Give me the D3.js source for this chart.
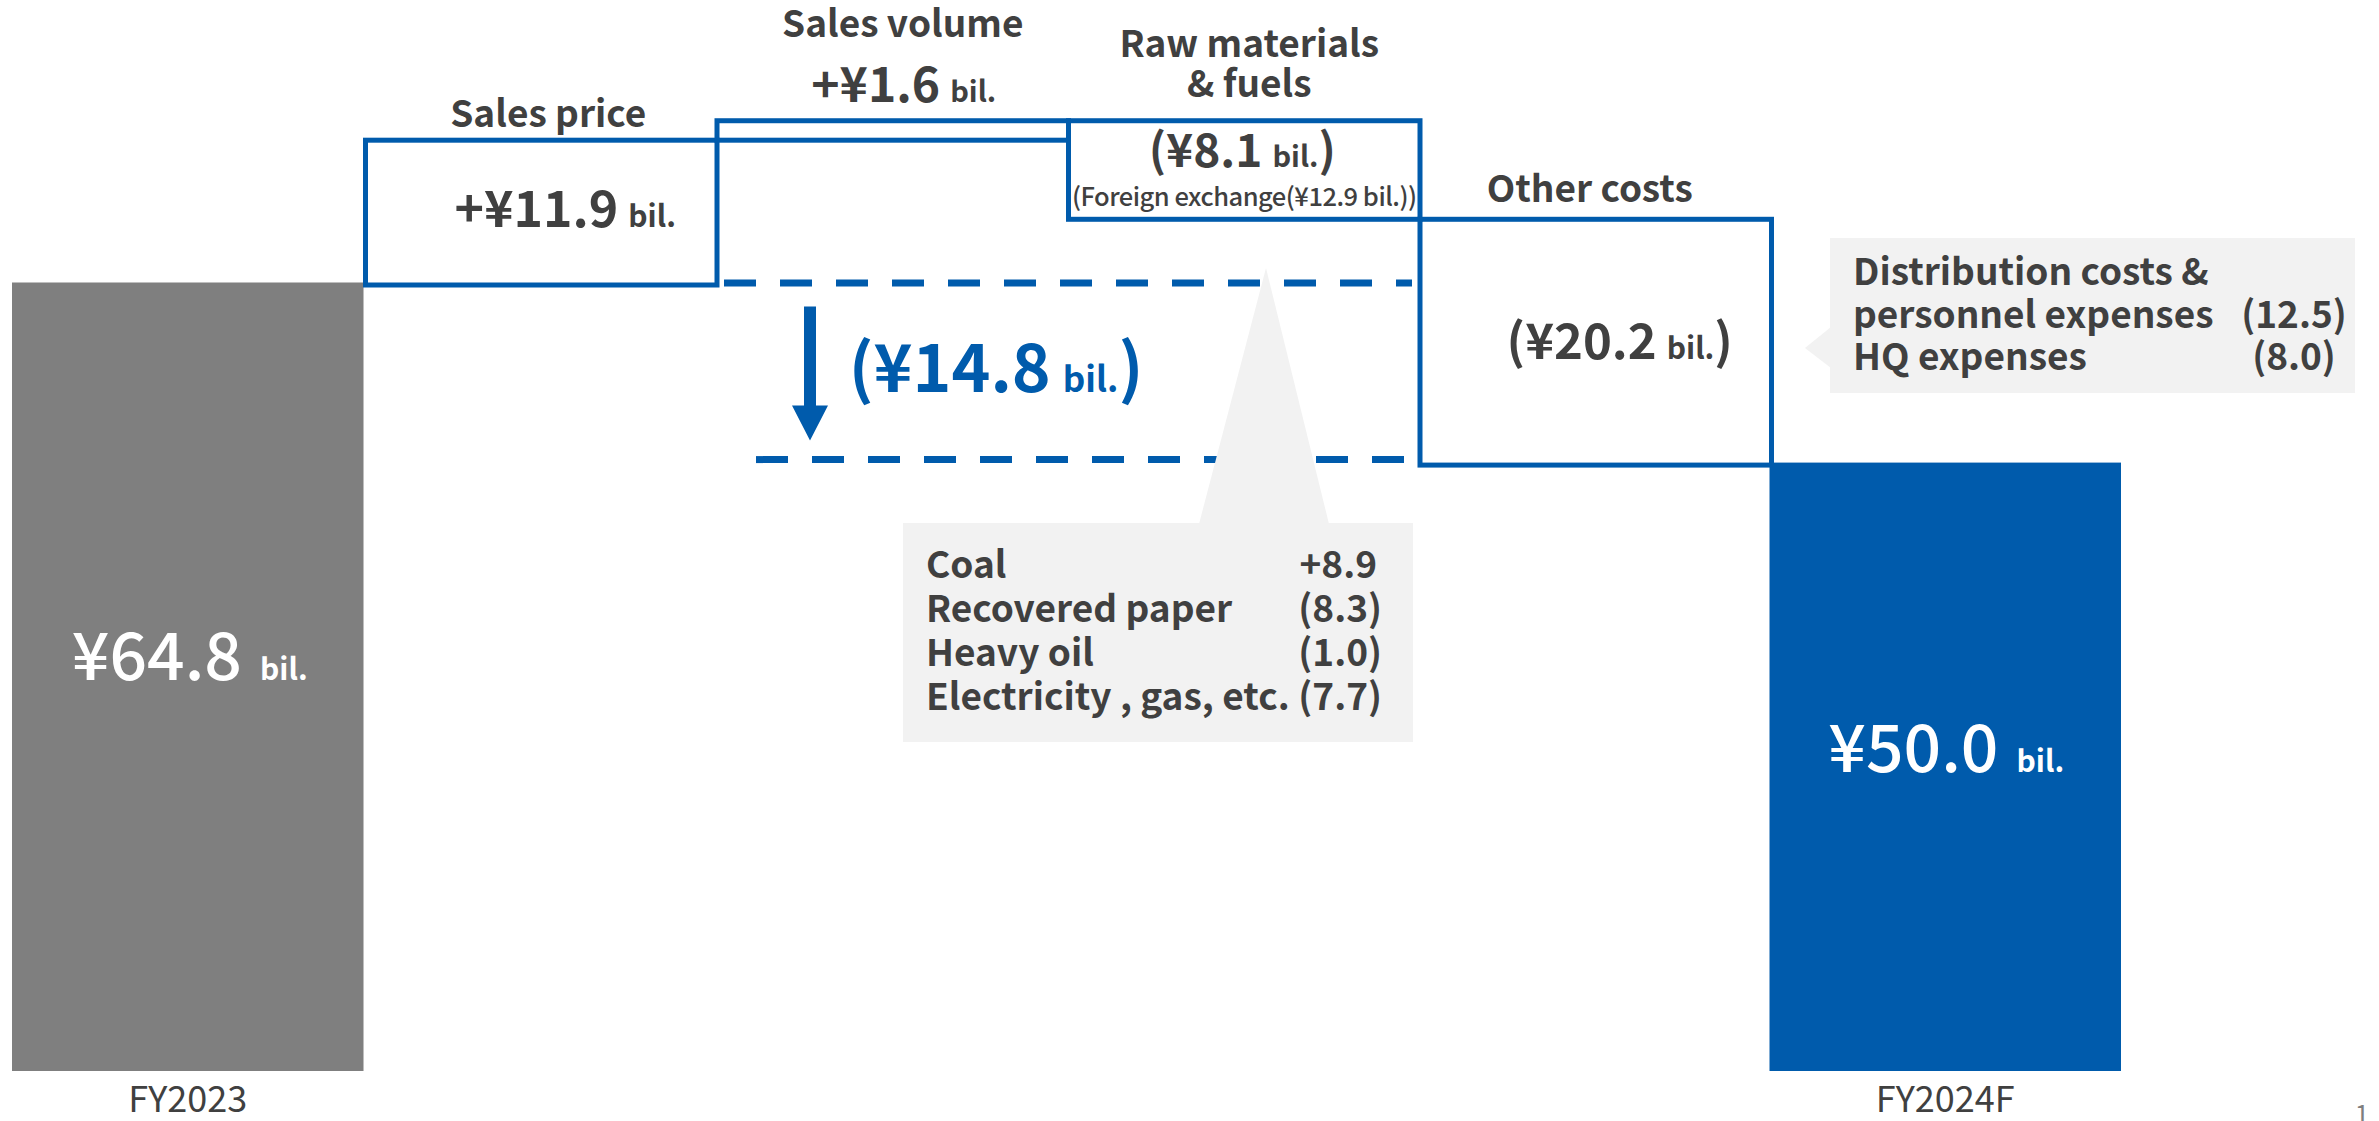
<!DOCTYPE html>
<html>
<head>
<meta charset="utf-8">
<script src="https://cdn.jsdelivr.net/npm/d3@7"></script>
<style>
  html, body { margin: 0; padding: 0; background: #ffffff; }
  svg { display: block; }
  text { font-family: "Noto Sans CJK JP", "Noto Sans", sans-serif; }
</style>
</head>
<body>
<div id="chart"></div>
<script>
// Operating profit bridge, FY2023 -> FY2024F (¥ billions)
const categories = ["FY2023", "Sales price", "Sales volume", "Raw materials & fuels", "Other costs", "FY2024F"];
const values = [64.8, 11.9, 1.6, -8.1, -20.2, 50.0];
const kinds = ["total", "delta", "delta", "delta", "delta", "total"];

// Header lines above each change box
const headerLines = [[], ["Sales price"], ["Sales volume"], ["Raw materials", "& fuels"], ["Other costs"], []];

// Foreign-exchange effect contained in raw materials & fuels
const fxEffect = -12.9;

// Raw materials & fuels breakdown
const materialItems = ["Coal", "Recovered paper", "Heavy oil", "Electricity , gas, etc."];
const materialValues = [8.9, -8.3, -1.0, -7.7];

// Other costs breakdown
const otherItems = [["Distribution costs &", "personnel expenses"], ["HQ expenses"]];
const otherValues = [-12.5, -8.0];

const W = 2379, H = 1121;
const BLUE = "#005bac", GREY_BAR = "#7f7f7f", TEXT = "#404040", CALLOUT = "#f2f2f2";

const svg = d3.select("#chart").append("svg")
  .attr("width", W).attr("height", H)
  .attr("viewBox", `0 0 ${W} ${H}`);

const x = d3.scaleBand().domain(categories).range([12, 2121]).padding(0);
const y = d3.scaleLinear().domain([0, 64.8]).range([1071, 282.5]);

// running levels for the waterfall
let level = 0;
const steps = values.map((v, i) => {
  let start, end;
  if (kinds[i] === "total") { start = 0; end = v; level = v; }
  else { start = level; end = level + v; level = end; }
  return { cat: categories[i], value: v, kind: kinds[i], lo: Math.min(start, end), hi: Math.max(start, end), end };
});

const f1 = d3.format(".1f");
const yen = v => "¥" + f1(Math.abs(v));
const paren = v => v < 0 ? "(" + f1(-v) + ")" : "+" + f1(v);

// ---- callout shapes (behind the boxes) ----
const gCall = svg.append("g");

// ---- total bars ----
svg.append("g").selectAll("rect")
  .data(steps.filter(d => d.kind === "total"))
  .join("rect")
  .attr("x", d => x(d.cat))
  .attr("width", x.bandwidth())
  .attr("y", d => y(d.hi))
  .attr("height", d => y(d.lo) - y(d.hi))
  .attr("fill", (d, i) => i === 0 ? GREY_BAR : BLUE);

// ---- change boxes (outlined) ----
const SW = 5;
svg.append("g").selectAll("rect")
  .data(steps.filter(d => d.kind === "delta"))
  .join("rect")
  .attr("x", d => x(d.cat) + 2)
  .attr("width", x.bandwidth())
  .attr("y", d => y(d.hi) + 2.5)
  .attr("height", d => y(d.lo) - y(d.hi))
  .attr("fill", "none")
  .attr("stroke", BLUE)
  .attr("stroke-width", SW);

// ---- net change guide: dashed levels + arrow ----
const first = values[0], last = values[values.length - 1];
const netChange = last - first;
const xs = x(categories[2]);
const xe = x(categories[4]);
svg.append("line")
  .attr("x1", xs + 9).attr("x2", xe - 6)
  .attr("y1", y(first) + 0.5).attr("y2", y(first) + 0.5)
  .attr("stroke", BLUE).attr("stroke-width", 7)
  .attr("stroke-dasharray", "32 24");
svg.append("line")
  .attr("x1", xs + 41).attr("x2", xe - 13)
  .attr("y1", y(last) - 3).attr("y2", y(last) - 3)
  .attr("stroke", BLUE).attr("stroke-width", 7)
  .attr("stroke-dasharray", "32 24");

const ax = xs + 95;
const aTop = y(first) + 24, aTip = y(last) - 22, headH = 35, shaftW = 12, headW = 36;
svg.append("path")
  .attr("d", d3.line()([
    [ax - shaftW / 2, aTop], [ax + shaftW / 2, aTop],
    [ax + shaftW / 2, aTip - headH], [ax + headW / 2, aTip - headH],
    [ax, aTip],
    [ax - headW / 2, aTip - headH], [ax - shaftW / 2, aTip - headH]
  ]) + "Z")
  .attr("fill", BLUE);

const netText = svg.append("text")
  .attr("x", 996).attr("y", 392)
  .attr("text-anchor", "middle")
  .attr("fill", BLUE).attr("font-weight", 700);
netText.append("tspan").attr("font-size", 66).text("(" + yen(netChange));
netText.append("tspan").attr("font-size", 35).attr("dx", 12).text("bil.");
netText.append("tspan").attr("font-size", 66).text(")");

// ---- callout: raw materials & fuels breakdown ----
const mBox = { x0: 903, x1: 1413, y0: 523, y1: 742 };
gCall.append("rect")
  .attr("x", mBox.x0).attr("y", mBox.y0)
  .attr("width", mBox.x1 - mBox.x0).attr("height", mBox.y1 - mBox.y0)
  .attr("fill", CALLOUT);
svg.append("path")
  .attr("d", d3.line()([[1199, mBox.y0 + 1], [1266, 268], [1329, mBox.y0 + 1]]) + "Z")
  .attr("fill", CALLOUT);

const mText = svg.append("g").attr("fill", TEXT).attr("font-weight", 700).attr("font-size", 37);
mText.selectAll("text.lbl")
  .data(materialItems)
  .join("text").attr("class", "lbl")
  .attr("x", 926).attr("y", (d, i) => 578 + i * 44)
  .text(d => d);
mText.selectAll("text.val")
  .data(materialValues)
  .join("text").attr("class", "val")
  .attr("x", d => d < 0 ? 1382 : 1377).attr("y", (d, i) => 578 + i * 44)
  .attr("text-anchor", "end")
  .text(d => paren(d));

// ---- callout: other costs breakdown ----
const oBox = { x0: 1830, x1: 2355, y0: 238, y1: 393 };
gCall.append("rect")
  .attr("x", oBox.x0).attr("y", oBox.y0)
  .attr("width", oBox.x1 - oBox.x0).attr("height", oBox.y1 - oBox.y0)
  .attr("fill", CALLOUT);
gCall.append("path")
  .attr("d", d3.line()([[oBox.x0 + 1, 327], [1805, 348], [oBox.x0 + 1, 368]]) + "Z")
  .attr("fill", CALLOUT);

const oText = svg.append("g").attr("fill", TEXT).attr("font-weight", 700).attr("font-size", 37);
let line = 0;
otherItems.forEach((lines, i) => {
  lines.forEach((t, j) => {
    oText.append("text").attr("x", 1853).attr("y", 285 + (line + j) * 42.5).text(t);
  });
  oText.append("text")
    .attr("x", 2294).attr("y", 285 + (line + lines.length - 1) * 42.5)
    .attr("text-anchor", "middle")
    .text(paren(otherValues[i]));
  line += lines.length;
});

// ---- headers above change boxes ----
const headerPos = { "Sales price": [9, 127], "Sales volume": [12, 37], "Raw materials & fuels": [7, 57], "Other costs": [-4, 202] };
steps.forEach((d, i) => {
  if (!headerLines[i].length) return;
  const [dx, by] = headerPos[d.cat];
  headerLines[i].forEach((t, j) => {
    svg.append("text")
      .attr("x", x(d.cat) + x.bandwidth() / 2 + dx)
      .attr("y", by + j * 40)
      .attr("text-anchor", "middle")
      .attr("fill", TEXT).attr("font-weight", 700).attr("font-size", 37)
      .text(t);
  });
});

// ---- value labels for change boxes ----
const valuePos = {
  "Sales price": [26, 227, 50, 30],
  "Sales volume": [13, 102, 48, 29],
  "Raw materials & fuels": [0, 167, 46, 29],
  "Other costs": [26, 359, 49, 30]
};
steps.filter(d => d.kind === "delta").forEach(d => {
  const [dx, by, big, small] = valuePos[d.cat];
  const t = svg.append("text")
    .attr("x", x(d.cat) + x.bandwidth() / 2 + dx)
    .attr("y", by)
    .attr("text-anchor", "middle")
    .attr("fill", TEXT).attr("font-weight", 700);
  t.append("tspan").attr("font-size", big).text((d.value < 0 ? "(" : "+") + yen(d.value));
  t.append("tspan").attr("font-size", small).attr("dx", 10).text("bil.");
  if (d.value < 0) t.append("tspan").attr("font-size", big).text(")");
});

// foreign exchange note inside raw materials box
const fx = svg.append("text")
  .attr("x", x(categories[3]) + x.bandwidth() / 2 + 2)
  .attr("y", 206)
  .attr("text-anchor", "middle")
  .attr("fill", TEXT).attr("font-weight", 500).attr("font-size", 25.5)
  .attr("letter-spacing", -0.5);
fx.append("tspan").text("(Foreign exchange(" + yen(fxEffect) + " ");
fx.append("tspan").text("bil.))");

// ---- total value labels ----
const totalPos = { "FY2023": [2, 680], "FY2024F": [1, 772] };
steps.filter(d => d.kind === "total").forEach(d => {
  const [dx, by] = totalPos[d.cat];
  const t = svg.append("text")
    .attr("x", x(d.cat) + x.bandwidth() / 2 + dx)
    .attr("y", by)
    .attr("text-anchor", "middle")
    .attr("fill", "#ffffff").attr("font-weight", 500);
  t.append("tspan").attr("font-size", 66).text(yen(d.value));
  t.append("tspan").attr("font-size", 30).attr("font-weight", 700).attr("dx", 18).text("bil.");
});

// ---- category axis labels ----
svg.append("g").selectAll("text")
  .data(steps.filter(d => d.kind === "total"))
  .join("text")
  .attr("x", d => x(d.cat) + x.bandwidth() / 2)
  .attr("y", 1112)
  .attr("text-anchor", "middle")
  .attr("fill", TEXT).attr("font-size", 36)
  .text(d => d.cat);

// page number
svg.append("text")
  .attr("x", 2362).attr("y", 1124)
  .attr("text-anchor", "middle")
  .attr("fill", "#7f7f7f").attr("font-size", 26)
  .text("1");
</script>
</body>
</html>
